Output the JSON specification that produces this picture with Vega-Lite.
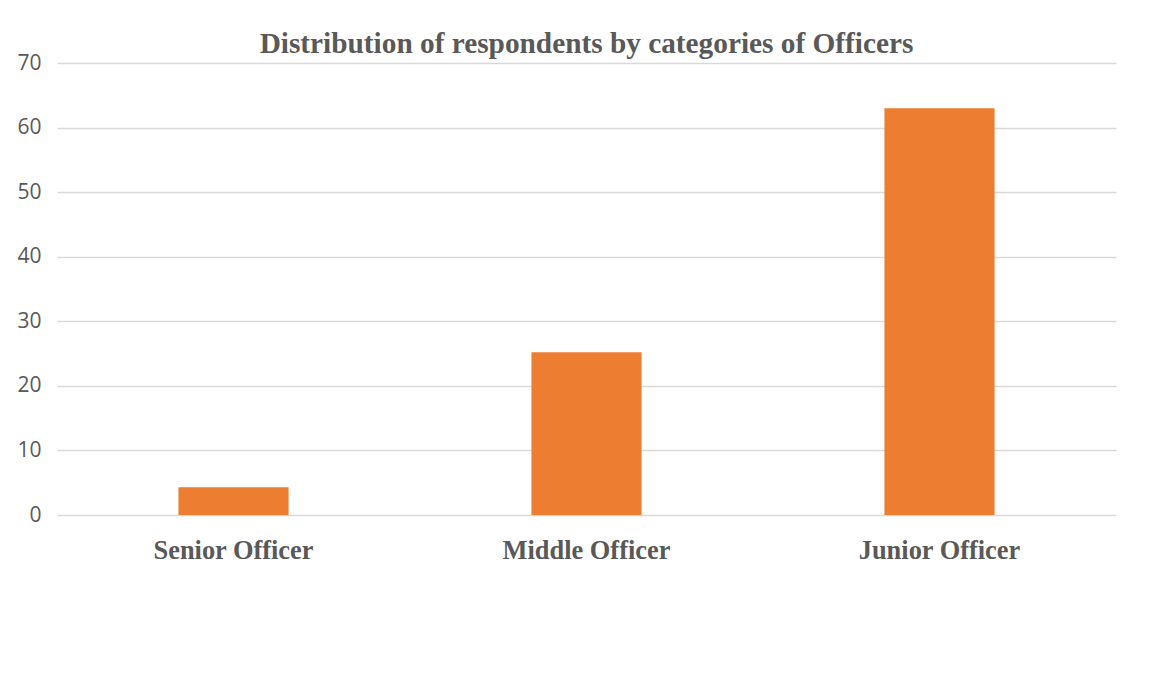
{
  "$schema": "https://vega.github.io/schema/vega-lite/v6.json",
  "width": 1059,
  "height": 452,
  "autosize": {"type": "none"},
  "padding": {"left": 57, "top": 63, "right": 33, "bottom": 160},
  "background": "white",
  "title": {
    "text": "Distribution of respondents by categories of Officers",
    "font": "Liberation Serif",
    "fontSize": 29.3,
    "fontWeight": "bold",
    "color": "#595959",
    "anchor": "middle",
    "baseline": "alphabetic",
    "offset": -30
  },
  "data": {
    "values": [
      {"category": "Senior Officer", "value": 4.3},
      {"category": "Middle Officer", "value": 25.2},
      {"category": "Junior Officer", "value": 63}
    ]
  },
  "mark": {"type": "bar", "color": "#ED7D31"},
  "encoding": {
    "x": {
      "field": "category",
      "type": "nominal",
      "sort": null,
      "scale": {"paddingInner": 0.688, "paddingOuter": 0.344},
      "axis": {
        "title": null,
        "labelAngle": 0,
        "labelFont": "Liberation Serif",
        "labelFontSize": 26.4,
        "labelFontWeight": "bold",
        "labelColor": "#595959",
        "labelBaseline": "alphabetic",
        "labelPadding": 43,
        "ticks": false,
        "tickSize": 0,
        "domain": false,
        "grid": false
      }
    },
    "y": {
      "field": "value",
      "type": "quantitative",
      "scale": {"domain": [0, 70]},
      "axis": {
        "title": null,
        "values": [0, 10, 20, 30, 40, 50, 60, 70],
        "labelFont": "Open Sans",
        "labelFontSize": 21,
        "labelColor": "#595959",
        "labelPadding": 16,
        "ticks": false,
        "tickSize": 0,
        "domain": false,
        "grid": true,
        "gridColor": "#D9D9D9",
        "gridWidth": 1.5
      }
    }
  },
  "config": {"view": {"stroke": null}}
}
